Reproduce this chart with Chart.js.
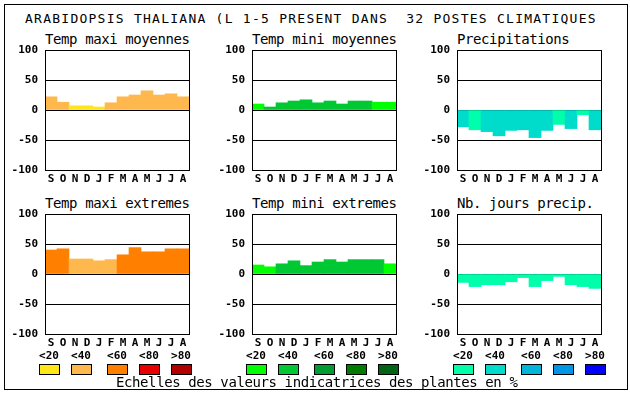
<!DOCTYPE html>
<html lang="fr">
<head>
    <meta charset="UTF-8">
    <title>Arabidopsis thaliana</title>
    <script src="https://cdn.jsdelivr.net/npm/chart.js"></script>
    <style>
        body { margin: 0; background: #fff; width: 630px; height: 394px; position: relative; overflow: hidden; }
        .abs { position: absolute; }
        .frame { left: 4px; top: 4px; width: 622px; height: 384px; border: 1px solid #000; }
        .txt { font-family: 'DejaVu Sans Mono', monospace; color: #000; white-space: pre; line-height: 1; }
        .big { font-size: 13px; letter-spacing: 1.25px; }
        .sub { font-size: 14px; letter-spacing: -0.4px; }
        .lab { font-size: 11px; font-weight: bold; width: 24px; text-align: center; }
        .sw { width: 19px; height: 9px; border: 1px solid #000; }
    </style>
</head>
<body>
    <div class="abs frame"></div>
    <div class="abs txt big" style="left:25px;top:12px">ARABIDOPSIS THALIANA (L 1-5 PRESENT DANS  32 POSTES CLIMATIQUES</div>
    <div id="panels"></div>
    <div id="legend"></div>
    <div class="abs txt sub" style="left:116px;top:375px">Echelles des valeurs indicatrices des plantes en %</div>

    <script>
        // Mois (septembre -> aout)
        var months = ['S', 'O', 'N', 'D', 'J', 'F', 'M', 'A', 'M', 'J', 'J', 'A'];
        var yTicks = [-100, -50, 0, 50, 100];
        var classLabels = ['<20', '<40', '<60', '<80', '>80'];

        // palettes des classes (pourcentage de plantes)
        var warmColors = ['#ffe619', '#ffb84d', '#ff8000', '#e60000', '#b00000'];
        var greenColors = ['#00ff00', '#00c832', '#009b32', '#007d00', '#006414'];
        var blueColors = ['#00ffaa', '#00dccc', '#00b4dc', '#0096e6', '#0000ff'];

        // valeurs
        var tmaxMoy = [22, 13, 7, 7, 5, 12, 22, 25, 32, 25, 27, 22];
        var tmaxMoyCls = [1, 1, 0, 0, 0, 1, 1, 1, 1, 1, 1, 1];
        var tminMoy = [10, 5, 12, 15, 17, 12, 15, 10, 15, 15, 13, 13];
        var tminMoyCls = [0, 1, 1, 1, 1, 1, 1, 1, 1, 1, 0, 0];
        var precip = [-28, -33, -36, -43, -34, -33, -46, -34, -24, -31, -8, -33];
        var precipCls = [1, 0, 1, 1, 1, 1, 1, 1, 0, 1, 0, 1];
        var tmaxExt = [40, 42, 25, 25, 22, 24, 32, 44, 37, 37, 42, 42];
        var tmaxExtCls = [2, 2, 1, 1, 1, 1, 2, 2, 2, 2, 2, 2];
        var tminExt = [15, 12, 17, 22, 14, 20, 24, 20, 24, 24, 24, 17];
        var tminExtCls = [0, 0, 1, 1, 1, 1, 1, 1, 1, 1, 1, 0];
        var joursPrecip = [-14, -21, -18, -18, -13, -6, -21, -11, -4, -18, -21, -24];
        var joursPrecipCls = [0, 0, 0, 0, 0, 0, 0, 0, 0, 0, 0, 0];

        var panels = [
            { title: 'Temp maxi moyennes', data: tmaxMoy, cls: tmaxMoyCls, pal: warmColors, x: 0, y: 40 },
            { title: 'Temp mini moyennes', data: tminMoy, cls: tminMoyCls, pal: greenColors, x: 207, y: 40 },
            { title: 'Precipitations', data: precip, cls: precipCls, pal: blueColors, x: 412, y: 40 },
            { title: 'Temp maxi extremes', data: tmaxExt, cls: tmaxExtCls, pal: warmColors, x: 0, y: 204 },
            { title: 'Temp mini extremes', data: tminExt, cls: tminExtCls, pal: greenColors, x: 207, y: 204 },
            { title: 'Nb. jours precip.', data: joursPrecip, cls: joursPrecipCls, pal: blueColors, x: 412, y: 204 }
        ];

        var monoFont = 'DejaVu Sans Mono';

        // cadre noir autour de la zone de trace
        var boxPlugin = {
            id: 'box',
            afterDraw: function (chart) {
                var a = chart.chartArea, ctx = chart.ctx;
                ctx.save();
                ctx.strokeStyle = '#000';
                ctx.lineWidth = 1;
                ctx.strokeRect(Math.round(a.left) + 0.5, Math.round(a.top) + 0.5,
                    Math.round(a.right - a.left), Math.round(a.bottom - a.top));
                ctx.restore();
            }
        };

        var holder = document.getElementById('panels');
        panels.forEach(function (p) {
            var t = document.createElement('div');
            t.className = 'abs txt sub';
            t.style.left = (p.x + 45) + 'px';
            t.style.top = (p.y - 8.5) + 'px';
            t.textContent = p.title;
            holder.appendChild(t);

            var c = document.createElement('canvas');
            c.width = 195;
            c.height = 150;
            c.className = 'abs';
            c.style.left = p.x + 'px';
            c.style.top = p.y + 'px';
            holder.appendChild(c);

            new Chart(c, {
                type: 'bar',
                data: {
                    labels: months,
                    datasets: [{
                        data: p.data,
                        backgroundColor: p.cls.map(function (k) { return p.pal[k]; }),
                        borderWidth: 0,
                        barPercentage: 1,
                        categoryPercentage: 1
                    }]
                },
                options: {
                    responsive: false,
                    animation: false,
                    devicePixelRatio: 1,
                    layout: { padding: { left: 0, right: 6, top: 10, bottom: 0 } },
                    plugins: { legend: { display: false }, tooltip: { enabled: false } },
                    scales: {
                        x: {
                            grid: { display: false, drawTicks: false },
                            border: { display: false },
                            ticks: { color: '#000', padding: 3, maxRotation: 0, autoSkip: false,
                                font: { family: monoFont, size: 11, weight: 'bold' } },
                            afterFit: function (s) { s.height = 20; }
                        },
                        y: {
                            min: -100, max: 100,
                            z: 1,
                            afterBuildTicks: function (s) { s.ticks = yTicks.map(function (v) { return { value: v }; }); },
                            grid: { color: '#000', lineWidth: 1, drawTicks: false },
                            border: { display: true, color: '#000' },
                            ticks: { color: '#000', padding: 7,
                                font: { family: monoFont, size: 11, weight: 'bold' } },
                            afterFit: function (s) {
                                s.width = 45;
                                s.paddingTop = 0;
                                s.paddingBottom = 0;
                            }
                        }
                    }
                },
                plugins: [boxPlugin]
            });
        });

        // legendes des classes
        var legend = document.getElementById('legend');
        var groupX = [39, 246, 453];
        var offs = [0, 32, 68, 100, 132];
        var pals = [warmColors, greenColors, blueColors];
        groupX.forEach(function (gx, g) {
            offs.forEach(function (o, i) {
                var l = document.createElement('div');
                l.className = 'abs txt lab';
                l.style.left = (gx + o - 2) + 'px';
                l.style.top = '350px';
                l.textContent = classLabels[i];
                legend.appendChild(l);
                var s = document.createElement('div');
                s.className = 'abs sw';
                s.style.left = (gx + o) + 'px';
                s.style.top = '364px';
                s.style.background = pals[g][i];
                legend.appendChild(s);
            });
        });
    </script>
</body>
</html>
